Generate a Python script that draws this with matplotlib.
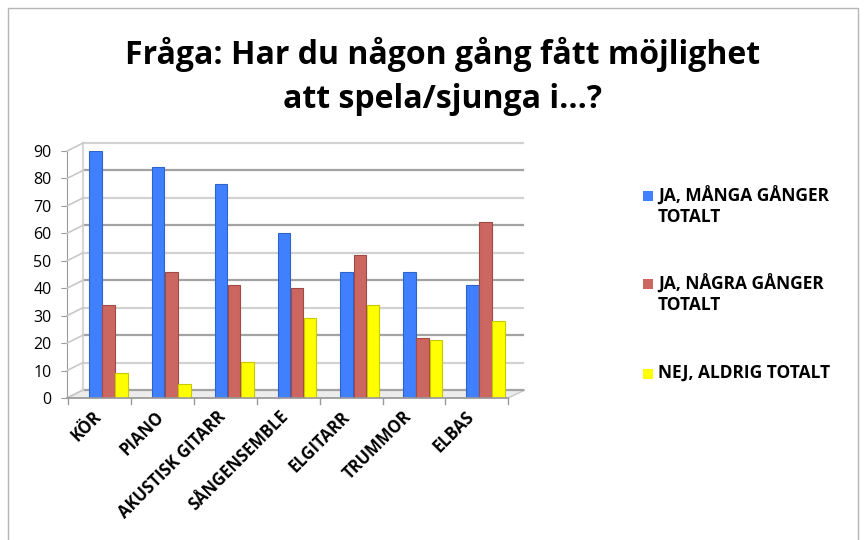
import matplotlib
matplotlib.use("Agg")
import matplotlib.pyplot as plt
import numpy as np
from matplotlib.patches import Rectangle, Polygon
from matplotlib.lines import Line2D
from matplotlib.transforms import ScaledTranslation

plt.rcParams["font.family"] = ["Open Sans", "DejaVu Sans"]

# ---- data ----
categories = ["KÖR", "PIANO", "AKUSTISK GITARR", "SÅNGENSEMBLE",
              "ELGITARR", "TRUMMOR", "ELBAS"]
series = ["JA, MÅNGA GÅNGER\nTOTALT", "JA, NÅGRA GÅNGER\nTOTALT", "NEJ, ALDRIG TOTALT"]
many = [90, 84, 78, 60, 46, 46, 41]
some = [34, 46, 41, 40, 52, 22, 64]
never = [9, 5, 13, 29, 34, 21, 28]
yticks = list(range(0, 100, 10))

BLUE = "#4080FF"; RED = "#CC6660"; YEL = "#FFFF00"
EDGES = ["#2f63c8", "#a04a45", "#c8c800"]
W, H = 866, 540

def fx(x): return x / W
def fy(y): return 1 - y / H

fig = plt.figure(figsize=(8.66, 5.4), dpi=100)
fig.patch.set_facecolor("white")

# outer frame
fig.add_artist(Rectangle((fx(8), fy(560)), fx(858) - fx(8), fy(8) - fy(560),
                         fill=False, ec="#b5b5b5", lw=1.0, transform=fig.transFigure))

# title
fig.text(fx(443), fy(54), "Fråga: Har du någon gång fått möjlighet",
         ha="center", va="center", fontsize=23, fontweight="bold")
fig.text(fx(443), fy(99), "att spela/sjunga i...?",
         ha="center", va="center", fontsize=23, fontweight="bold")

ax = fig.add_axes([fx(77), fy(398), (517 - 77) / W, (398 - 151) / H])
ax.set_xlim(-0.5, len(categories) - 0.5)
ax.set_ylim(0, 90)
ax.patch.set_alpha(0)

# back wall (pseudo 3D) gridlines
back = ax.transData + ScaledTranslation(0.06, 0.08, fig.dpi_scale_trans)
for k, v in enumerate(yticks):
    c = "#a3a3a3" if k % 2 == 0 else "#d2d2d2"
    ax.plot([-0.5, 6.5], [v, v], transform=back, color=c, lw=1.6,
            clip_on=False, zorder=0)
ax.plot([-0.5, -0.5], [0, 90], transform=back, color="#d6d6d6", lw=1.5,
        clip_on=False, zorder=0)

# left wall diagonals and floor (pixel coordinates)
for v in yticks:
    yp = 398 - v * 2.744
    fig.add_artist(Line2D([fx(67), fx(83)], [fy(yp), fy(yp - 8)],
                          color="#c8c8c8", lw=1.2))
fig.add_artist(Polygon([(fx(67), fy(398)), (fx(508), fy(398)),
                        (fx(525), fy(390)), (fx(83), fy(390))],
                       closed=True, fc="#ececec", ec="#c8c8c8", lw=1.0,
                       transform=fig.transFigure, zorder=0))
fig.add_artist(Line2D([fx(67), fx(508)], [fy(398), fy(398)], color="#9a9a9a", lw=1.2))
for k in range(len(categories) + 1):
    xp = 68 + 62.9 * k
    fig.add_artist(Line2D([fx(xp), fx(xp)], [fy(398), fy(404)], color="#9a9a9a", lw=1.0))

# bars
x = np.arange(len(categories))
bw = 0.2
for off, vals, col, ec in zip([-0.21, 0, 0.21], [many, some, never],
                              [BLUE, RED, YEL], EDGES):
    ax.bar(x + off, vals, width=bw, color=col, edgecolor=ec, lw=0.8, zorder=3)

# y axis (front)
ax.set_yticks(yticks)
for s in ["top", "right", "bottom"]:
    ax.spines[s].set_visible(False)
ax.spines["left"].set_position(("outward", 7.2))
ax.spines["left"].set_color("#9a9a9a")
ax.tick_params(axis="y", length=4, color="#9a9a9a", pad=7, labelsize=11.5)
ax.set_xticks([])

# category labels
for i, name in enumerate(categories):
    xp = 99 + 62.0 * i
    fig.text(fx(xp), fy(414), name, rotation=45, rotation_mode="anchor",
             ha="right", va="center", fontsize=12, fontweight="bold")

# legend
leg_y = [196, 284, 374]
for lab, col, yy in zip(series, [BLUE, RED, YEL], leg_y):
    fig.add_artist(Rectangle((fx(643), fy(yy + 5)), 10 / W, 10 / H, fc=col, ec="none",
                             transform=fig.transFigure))
    fig.text(fx(658), fy(yy - 10), lab, ha="left", va="top", fontsize=12.5,
             fontweight="bold", linespacing=1.2)

fig.savefig("out.png", dpi=100, facecolor="white")
